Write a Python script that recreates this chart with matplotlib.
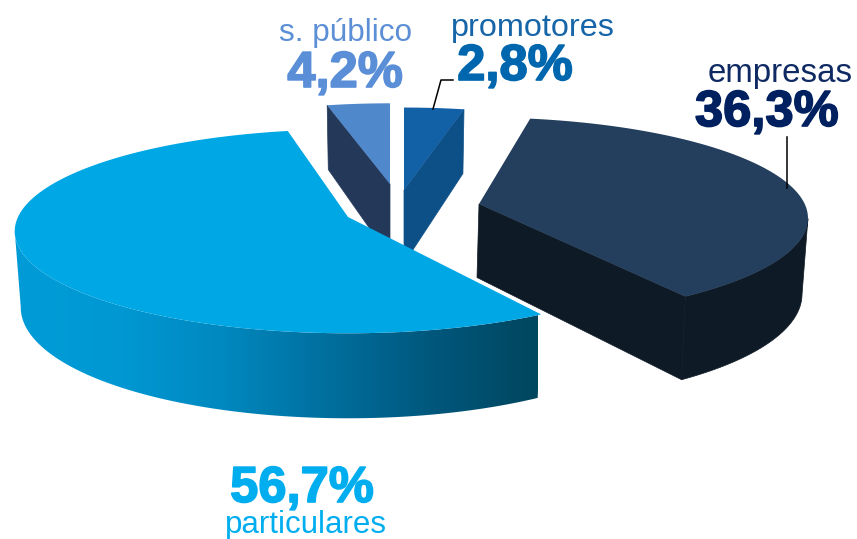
import numpy as np
import matplotlib
matplotlib.use('Agg')
import matplotlib.pyplot as plt
import matplotlib.patheffects as pe
from matplotlib.colors import LinearSegmentedColormap
from matplotlib.patches import Polygon

names = ['promotores', 'empresas', 'particulares', 's. público']
shares = [2.8, 36.3, 56.7, 4.2]
share_labels = ['2,8%', '36,3%', '56,7%', '4,2%']

# Disc projection, in pixels.
RX = 330.0
RY = 100.0
PERSPECTIVE = 0.14
DEPTH = 74.5
DEPTH_SLOPE = 10.5
BOTTOM_SHRINK = 0.982

# start angle (clockwise from the back), angular stretch, size, apex
slice_layout = {
    'promotores': (0.0, 1.26, 0.94, (404, 190)),
    'empresas': (10.3, 1.038, 0.987, (479, 204)),
    'particulares': (149.0, 0.975, 1.0, (348, 217)),
    's. público': (346.4, 0.9, 0.92, (390, 184)),
}
top_colors = {'promotores': '#1260a5', 'empresas': '#243e5e',
              'particulares': '#00a7e5', 's. público': '#5088cc'}
side_colors = {'promotores': '#0d4f87', 'empresas': '#0e1b26',
               's. público': '#24395a'}
# which straight edge shows its cut face, and how far its foot leans left
face_edge = {'promotores': (-1, 0), 'empresas': (-1, 2), 's. público': (0, 0)}
draw_order = ['s. público', 'promotores', 'empresas', 'particulares']
gradient = ['#009cd8', '#0098d3', '#0088bf', '#006f9e', '#00577c', '#00465f']

# name: centre x, baseline y, size, colour
name_text = {
    's. público': (346, 41, 22.7, '#5c8fd6'),
    'promotores': (533, 36, 23.3, '#1565a8'),
    'empresas': (780, 82, 23.8, '#0f2a63'),
    'particulares': (306, 533, 22.5, '#00aeef'),
}
share_text = {
    's. público': (345, 87, '#5a8fd8'),
    'promotores': (515, 80, '#0066ad'),
    'empresas': (767, 126, '#002060'),
    'particulares': (302, 502, '#00aeef'),
}
leaders = [([433, 441, 453], [109, 80, 80]), ([787, 787], [137, 188])]


def Rim(name, share):
  """Returns the rim of a slice on screen and its depth below each point."""
  start, stretch, size, (ax_x, ax_y) = slice_layout[name]
  theta = np.radians(np.linspace(start, start + share * 3.6 * stretch, 240))
  x_disc, y_disc = np.sin(theta), np.cos(theta)
  div = 1 + PERSPECTIVE * y_disc
  x = ax_x + size * RX * x_disc / div
  y = ax_y - size * RY * y_disc / div
  return x, y, DEPTH - DEPTH_SLOPE * y_disc


def Extrude(x, y, depth, apex_x):
  return apex_x + BOTTOM_SHRINK * (x - apex_x), y + depth


def Band(x, y, bottom_x, bottom_y, keep):
  return np.column_stack([np.r_[x[keep], bottom_x[keep][::-1]],
                          np.r_[y[keep], bottom_y[keep][::-1]]])


def DrawSlice(ax, name, share):
  x, y, depth = Rim(name, share)
  apex_x, apex_y = slice_layout[name][3]
  bottom_x, bottom_y = Extrude(x, y, depth, apex_x)
  if name == 'particulares':
    # only the front of the rim shows, up to the leftmost point
    band = Band(x, y, bottom_x, bottom_y, slice(0, np.argmin(x) + 1))
    clip = Polygon(band, closed=True, transform=ax.transData)
    cmap = LinearSegmentedColormap.from_list('side', gradient)
    image = ax.imshow(np.linspace(0, 1, 256).reshape(1, -1), cmap=cmap,
                      extent=(14, 538, 420, 200), aspect='auto', zorder=1)
    image.set_clip_path(clip)
  else:
    color = side_colors[name]
    if name == 'empresas':
      band = Band(x, y, bottom_x, bottom_y, slice(np.argmax(x), None))
      ax.add_patch(Polygon(band, closed=True, fc=color, ec=color, lw=0.5,
                           zorder=1))
    i, lean = face_edge[name]
    face = [(x[i], y[i]), (apex_x, apex_y),
            (apex_x - lean, apex_y + DEPTH - 1), (bottom_x[i], bottom_y[i])]
    ax.add_patch(Polygon(face, closed=True, fc=color, ec=color, lw=0.5,
                         zorder=1))
  top = np.column_stack([np.r_[x, apex_x], np.r_[y, apex_y]])
  ax.add_patch(Polygon(top, closed=True, fc=top_colors[name], ec='none',
                       zorder=1))


def main():
  plt.rcParams['font.family'] = ['Liberation Sans']
  fig = plt.figure(figsize=(8.57, 5.39), dpi=100)
  ax = fig.add_axes([0, 0, 1, 1])
  share_by_name = dict(zip(names, shares))
  for name in draw_order:
    DrawSlice(ax, name, share_by_name[name])
  for xs, ys in leaders:
    ax.plot(xs, ys, color='black', lw=1.1, zorder=2)
  ax.set_xlim(0, 857)
  ax.set_ylim(539, 0)
  ax.axis('off')
  for name, label in zip(names, share_labels):
    x, y, size, color = name_text[name]
    ax.text(x, y, name, ha='center', va='baseline', fontsize=size, color=color)
    x, y, color = share_text[name]
    ax.text(x, y, label, ha='center', va='baseline', fontsize=36.5,
            fontweight='bold', color=color,
            path_effects=[pe.withStroke(linewidth=1.2, foreground=color)])
  fig.savefig('out.png', dpi=100)


if __name__ == '__main__':
  main()
